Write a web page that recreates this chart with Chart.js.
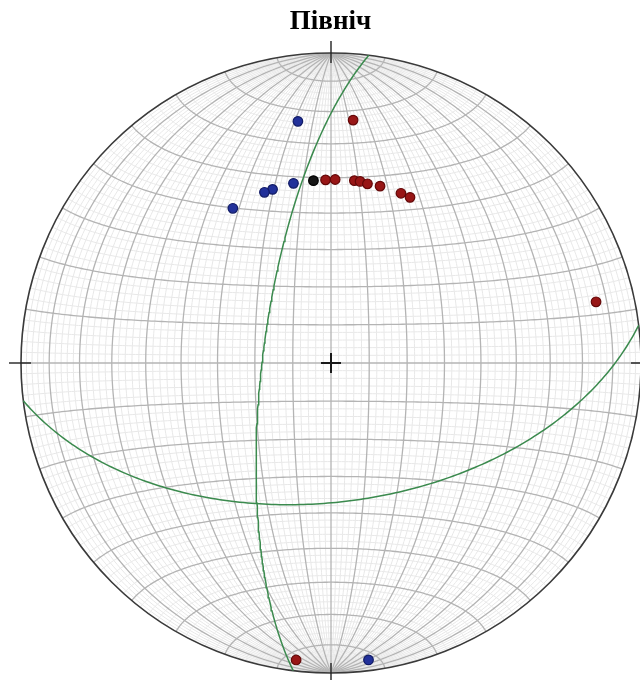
<!DOCTYPE html>
<html>
<head>
<meta charset="utf-8">
<title>Північ</title>
<script src="https://cdn.jsdelivr.net/npm/chart.js@4/dist/chart.umd.min.js"></script>
<style>
  html, body { margin: 0; padding: 0; background: #ffffff; }
  canvas { display: block; }
</style>
</head>
<body>
<canvas id="net" width="640" height="680"></canvas>
<script>
// Lineations, lower-hemisphere equal-area (Schmidt) net: trend / plunge in degrees
const redTrend   = [5.2, 358.3, 1.3, 7.3, 9.1, 11.5, 15.5, 22.4, 25.5, 77.0, 186.7];
const redPlunge  = [22.4, 40.6, 40.5, 40.4, 40.4, 40.7, 40.5, 40.5, 40.5, 13.3, 4.0];
const blueTrend  = [352.2, 348.2, 341.4, 338.7, 327.6, 172.8];
const bluePlunge = [22.4, 40.5, 40.6, 40.6, 40.6, 3.9];
const blackTrend  = [354.5];
const blackPlunge = [40.6];

// Planes drawn as great circles: dip direction / dip in degrees
const planeDipDir = [277, 173];
const planeDip    = [72, 53];

const rad = Math.PI / 180;

// Equal-area projection of a unit vector (east, north, down) onto the unit net
function projectVec(e, n, d) {
  const k = 1 / Math.sqrt(1 + d);
  return { x: e * k, y: n * k };
}
function projectLine(trend, plunge) {
  const t = trend * rad, p = plunge * rad;
  return projectVec(Math.cos(p) * Math.sin(t), Math.cos(p) * Math.cos(t), Math.sin(p));
}
function linePoints(trends, plunges) {
  return trends.map((t, i) => projectLine(t, plunges[i]));
}
function greatCircle(dipDir, dip) {
  const s = (dipDir - 90) * rad, dd = dipDir * rad, dp = dip * rad;
  const sv = [Math.sin(s), Math.cos(s), 0];
  const dv = [Math.cos(dp) * Math.sin(dd), Math.cos(dp) * Math.cos(dd), Math.sin(dp)];
  const pts = [];
  for (let a = 0; a <= 180; a += 1) {
    const c = Math.cos(a * rad), sn = Math.sin(a * rad);
    pts.push(projectVec(c * sv[0] + sn * dv[0], c * sv[1] + sn * dv[1], Math.max(0, c * sv[2] + sn * dv[2])));
  }
  return pts;
}

// Net graticule: meridians and small circles of the equatorial Schmidt net
const netGrid = {
  id: 'netGrid',
  beforeDatasetsDraw(chart) {
    const { ctx, scales: { x, y } } = chart;
    const X = v => x.getPixelForValue(v);
    const Y = v => y.getPixelForValue(v);
    const cx = X(0), cy = Y(0), R = X(1) - X(0);

    // sphere point at latitude phi (about the N axis) and longitude lam
    const pt = (phi, lam) => {
      const f = phi * rad, l = lam * rad;
      return projectVec(Math.cos(f) * Math.sin(l), Math.sin(f), Math.cos(f) * Math.cos(l));
    };
    const trace = (fn) => {
      ctx.beginPath();
      for (let s = -90; s <= 90; s += 1) {
        const p = fn(s);
        if (s === -90) ctx.moveTo(X(p.x), Y(p.y)); else ctx.lineTo(X(p.x), Y(p.y));
      }
      ctx.stroke();
    };

    ctx.save();
    ctx.beginPath();
    ctx.arc(cx, cy, R, 0, 2 * Math.PI);
    ctx.clip();

    const pass = (major) => {
      ctx.strokeStyle = major ? '#b4b4b4' : '#e8e8e8';
      ctx.lineWidth = major ? 1.3 : 1;
      for (let v = -88; v <= 88; v += 2) {
        if ((v % 10 === 0) !== major) continue;
        trace(s => pt(s, v));   // meridian
        trace(s => pt(v, s));   // small circle
      }
    };
    pass(false);
    pass(true);
    ctx.restore();

    ctx.save();
    // primitive circle
    ctx.strokeStyle = '#3a3a3a';
    ctx.lineWidth = 1.6;
    ctx.beginPath();
    ctx.arc(cx, cy, R, 0, 2 * Math.PI);
    ctx.stroke();

    // cardinal ticks across the primitive
    ctx.strokeStyle = '#222222';
    ctx.lineWidth = 1.4;
    const tin = 1 - 10 / R, tout = 1 + 12 / R;
    [[0, 1], [1, 0], [0, -1], [-1, 0]].forEach(([dx, dy]) => {
      ctx.beginPath();
      ctx.moveTo(X(dx * tin), Y(dy * tin));
      ctx.lineTo(X(dx * tout), Y(dy * tout));
      ctx.stroke();
    });

    // centre cross
    ctx.lineWidth = 2;
    ctx.strokeStyle = '#1a1a1a';
    const c = 10 / R;
    ctx.beginPath();
    ctx.moveTo(X(-c), Y(0)); ctx.lineTo(X(c), Y(0));
    ctx.moveTo(X(0), Y(-c)); ctx.lineTo(X(0), Y(c));
    ctx.stroke();
    ctx.restore();
  }
};

const pointStyle = (fill, edge) => ({
  type: 'scatter',
  pointRadius: 4.8,
  pointHoverRadius: 4.8,
  pointBackgroundColor: fill,
  pointBorderColor: edge,
  pointBorderWidth: 1.2,
  clip: false,
  order: 0
});

const planeSets = planeDipDir.map((dd, i) => ({
  type: 'scatter',
  data: greatCircle(dd, planeDip[i]),
  showLine: true,
  borderColor: '#3b8a4e',
  borderWidth: 1.5,
  pointRadius: 0,
  pointHoverRadius: 0,
  fill: false,
  tension: 0,
  clip: false,
  order: 2
}));

new Chart(document.getElementById('net'), {
  type: 'scatter',
  data: {
    datasets: [
      Object.assign({ label: 'black', data: linePoints(blackTrend, blackPlunge) }, pointStyle('#151515', '#000000')),
      Object.assign({ label: 'red', data: linePoints(redTrend, redPlunge) }, pointStyle('#981616', '#640808')),
      Object.assign({ label: 'blue', data: linePoints(blueTrend, bluePlunge) }, pointStyle('#22319a', '#121c66')),
      ...planeSets
    ]
  },
  options: {
    responsive: false,
    devicePixelRatio: 1,
    animation: false,
    layout: { autoPadding: false, padding: { left: 21, right: 0, top: 0, bottom: 7 } },
    scales: {
      x: { type: 'linear', display: false, min: -1, max: 619 / 310 - 1 },
      y: { type: 'linear', display: false, min: -1, max: 1 }
    },
    plugins: {
      legend: { display: false },
      tooltip: { enabled: false },
      title: {
        display: true,
        text: 'Північ',
        color: '#000000',
        font: { family: "'Liberation Serif', 'Times New Roman', serif", size: 27, weight: 'bold' },
        padding: { top: 6, bottom: 14.6 }
      }
    }
  },
  plugins: [netGrid]
});
</script>
</body>
</html>
